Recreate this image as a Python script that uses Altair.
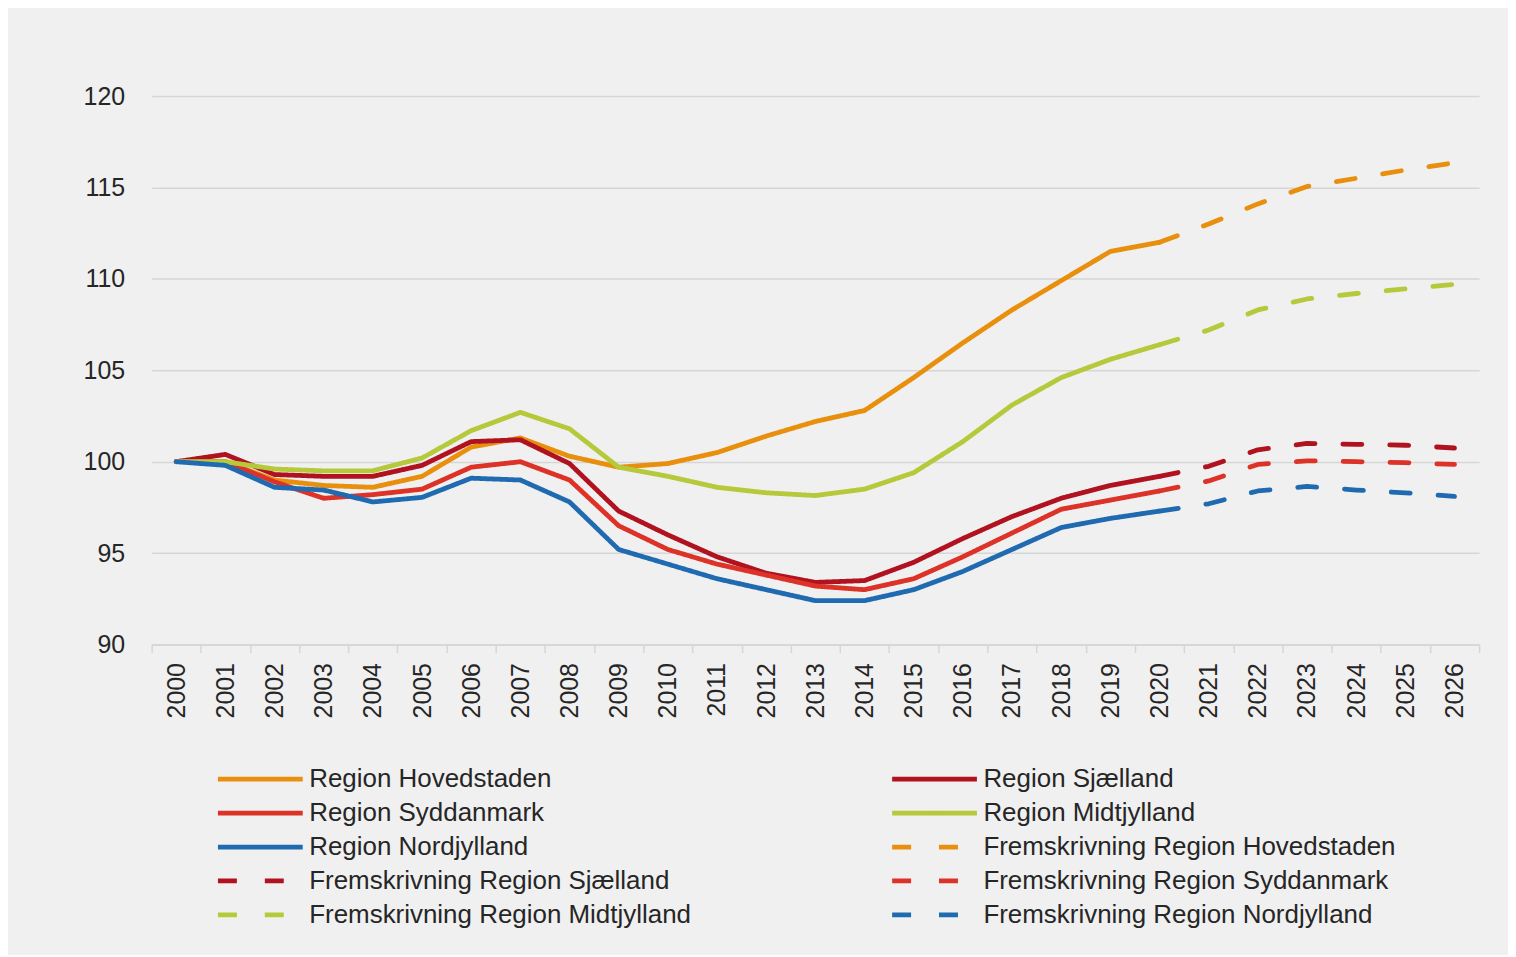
import altair as alt
import pandas as pd

# ---- categories ----
years_hist = ["2000", "2001", "2002", "2003", "2004", "2005", "2006", "2007", "2008", "2009",
              "2010", "2011", "2012", "2013", "2014", "2015", "2016", "2017", "2018", "2019", "2020"]
years_fc = ["2020", "2021", "2022", "2023", "2024", "2025", "2026"]

# ---- historical index (2000 = 100) ----
hovedstaden = [100.0, 100.0, 99.0, 98.7, 98.6, 99.2, 100.8, 101.3, 100.3, 99.7, 99.9,
               100.5, 101.4, 102.2, 102.8, 104.6, 106.5, 108.3, 109.9, 111.5, 112.0]
sjaelland = [100.0, 100.4, 99.3, 99.2, 99.2, 99.8, 101.1, 101.2, 99.9, 97.3, 96.0,
             94.8, 93.9, 93.4, 93.5, 94.5, 95.8, 97.0, 98.0, 98.7, 99.2]
syddanmark = [100.0, 100.0, 98.9, 98.0, 98.2, 98.5, 99.7, 100.0, 99.0, 96.5, 95.2,
              94.4, 93.8, 93.2, 93.0, 93.6, 94.8, 96.1, 97.4, 97.9, 98.4]
midtjylland = [100.0, 100.0, 99.6, 99.5, 99.5, 100.2, 101.7, 102.7, 101.8, 99.7, 99.2,
               98.6, 98.3, 98.15, 98.5, 99.4, 101.1, 103.1, 104.6, 105.6, 106.4]
nordjylland = [100.0, 99.8, 98.6, 98.45, 97.8, 98.05, 99.1, 99.0, 97.8, 95.2, 94.4,
               93.6, 93.0, 92.4, 92.4, 93.0, 94.0, 95.2, 96.4, 96.9, 97.3]

# ---- projections ----
fc_hovedstaden = [112.0, 113.0, 114.1, 115.05, 115.5, 115.95, 116.35]
fc_sjaelland = [99.2, 99.75, 100.65, 101.0, 100.95, 100.9, 100.75]
fc_syddanmark = [98.4, 98.95, 99.85, 100.05, 100.0, 99.95, 99.85]
fc_midtjylland = [106.4, 107.2, 108.3, 108.9, 109.2, 109.45, 109.7]
fc_nordjylland = [97.3, 97.7, 98.4, 98.65, 98.45, 98.3, 98.1]

series_names = [
    "Region Hovedstaden", "Region Sjælland", "Region Syddanmark",
    "Region Midtjylland", "Region Nordjylland",
    "Fremskrivning Region Hovedstaden", "Fremskrivning Region Sjælland",
    "Fremskrivning Region Syddanmark", "Fremskrivning Region Midtjylland",
    "Fremskrivning Region Nordjylland",
]
series_values = [hovedstaden, sjaelland, syddanmark, midtjylland, nordjylland,
                 fc_hovedstaden, fc_sjaelland, fc_syddanmark, fc_midtjylland, fc_nordjylland]
series_years = [years_hist] * 5 + [years_fc] * 5

region_colors = ["#E8900E", "#B0121F", "#DC3227", "#B5C93B", "#1F6AB0"]
series_colors = region_colors + region_colors
series_dashes = [[1, 0]] * 5 + [[19, 28]] * 5

# legend order (filled column by column: first 5 left, next 5 right)
legend_order = [
    "Region Hovedstaden", "Region Syddanmark", "Region Nordjylland",
    "Fremskrivning Region Sjælland", "Fremskrivning Region Midtjylland",
    "Region Sjælland", "Region Midtjylland", "Fremskrivning Region Hovedstaden",
    "Fremskrivning Region Syddanmark", "Fremskrivning Region Nordjylland",
]
color_of = dict(zip(series_names, series_colors))
dash_of = dict(zip(series_names, series_dashes))

rows = []
for name, yrs, vals in zip(series_names, series_years, series_values):
    for yr, v in zip(yrs, vals):
        rows.append({"year": yr, "value": v, "series": name})
df = pd.DataFrame(rows)

font = "Liberation Sans"

chart = alt.Chart(df).mark_line(
    strokeWidth=4.8, strokeCap="round", strokeJoin="round"
).encode(
    x=alt.X(
        "year:O",
        scale=alt.Scale(type="band", paddingInner=0, paddingOuter=0),
        bandPosition=0.5,
        axis=alt.Axis(
            title=None, labelAngle=270, tickBand="extent", grid=False,
            domainColor="#d6d6d6", domainWidth=1.5,
            tickColor="#d6d6d6", tickWidth=1.5, tickSize=8,
            labelPadding=10, labelFontSize=25,
        ),
    ),
    y=alt.Y(
        "value:Q",
        scale=alt.Scale(domain=[90, 120], nice=False, zero=False),
        axis=alt.Axis(
            title=None, values=[90, 95, 100, 105, 110, 115, 120],
            domain=False, ticks=False, labelPadding=27, labelFontSize=25,
            grid=True, gridColor="#d6d6d6", gridWidth=1.5,
        ),
    ),
    color=alt.Color(
        "series:N", sort=legend_order,
        scale=alt.Scale(domain=legend_order, range=[color_of[n] for n in legend_order]),
        legend=alt.Legend(title=None),
    ),
    strokeDash=alt.StrokeDash(
        "series:N", sort=legend_order,
        scale=alt.Scale(domain=legend_order, range=[dash_of[n] for n in legend_order]),
        legend=alt.Legend(title=None),
    ),
).properties(
    width=1331,
    height=550,
    background="#f0f0f0",
    autosize=alt.AutoSizeParams(type="none"),
    padding={"left": 144, "top": 87, "right": 29, "bottom": 310},
).configure_view(
    stroke=None
).configure_axis(
    labelFont=font, labelColor="#262626",
).configure_legend(
    orient="none", legendX=64, legendY=673,
    columns=2, columnPadding=199, rowPadding=8, gridAlign="each",
    clipHeight=24,
    symbolType="stroke", symbolSize=7225, symbolStrokeWidth=4.8,
    labelFont=font, labelFontSize=26, labelColor="#262626",
    labelOffset=4, labelLimit=0, padding=0,
)

chart.save("out.html", embed_options={"renderer": "svg", "actions": False})
